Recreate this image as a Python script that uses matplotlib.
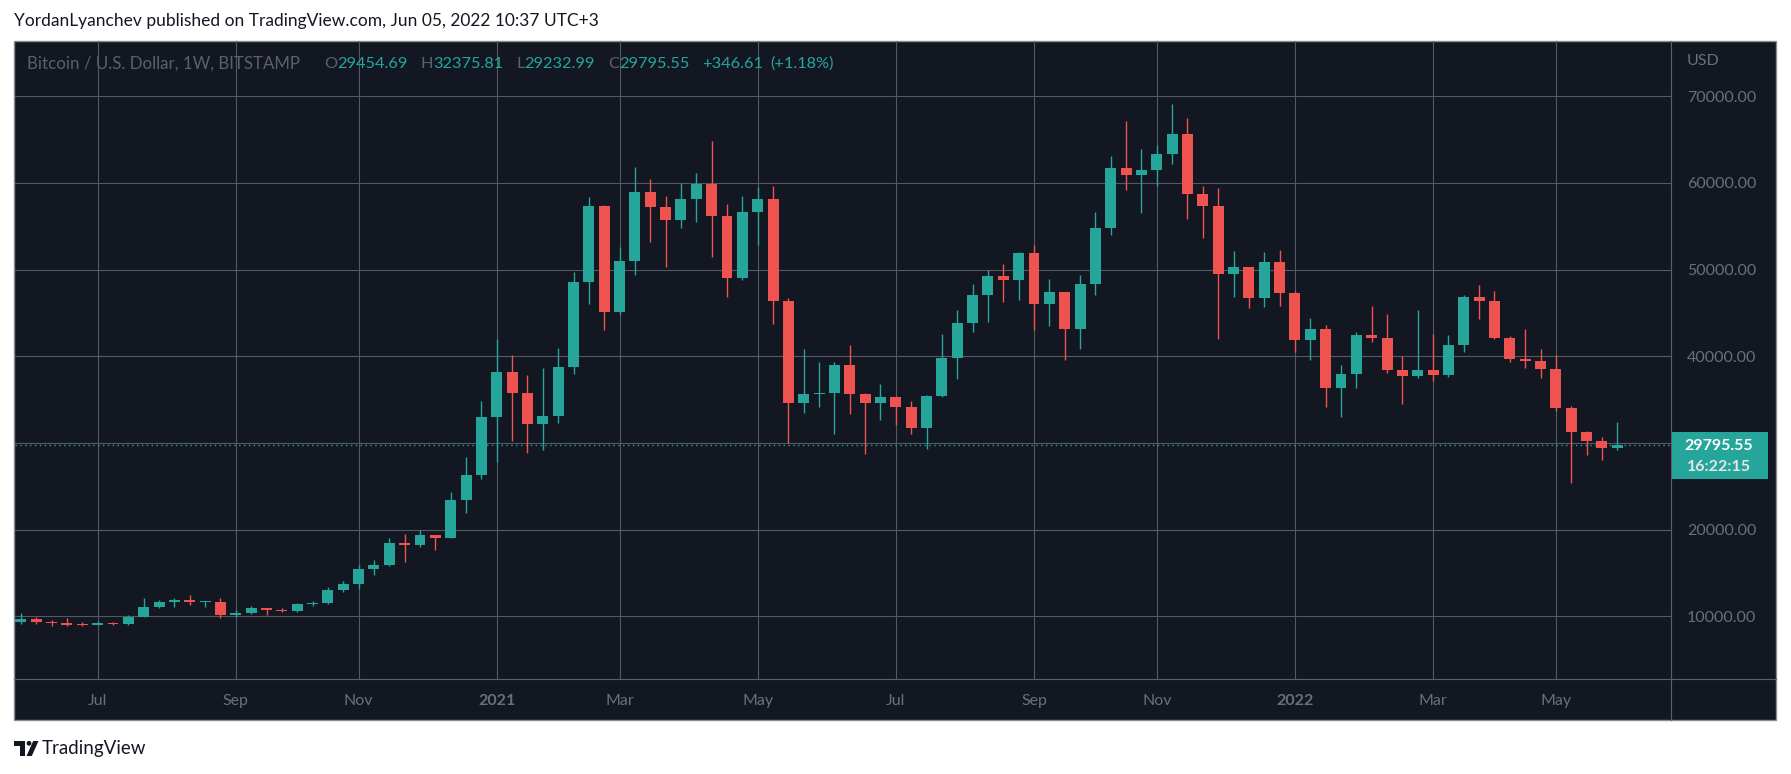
import numpy as np
import pandas as pd
import matplotlib
matplotlib.use("Agg")
import matplotlib.pyplot as plt
import matplotlib.dates as mdates
from matplotlib.patches import Rectangle, Polygon, Circle

plt.rcParams['font.family'] = ['Lato', 'DejaVu Sans']

# weekly BTC/USD candles, Bitstamp, Jun 2020 - Jun 2022
weeks = pd.date_range('2020-06-01', periods=105, freq='W-MON')

opens = [9400, 9700, 9330, 9180, 9050, 8980, 9250, 9130, 9930, 11050,
         11600, 11850, 11650, 11700, 10200, 10400, 10930, 10700, 10580, 11380,
         11500, 13030, 13780, 15480, 15970, 18420, 18180, 19340, 19050, 23380,
         26250, 33000, 38150, 35800, 32200, 33100, 38800, 48600, 57400, 45150,
         50950, 59000, 57200, 55700, 58200, 59900, 56150, 49000, 56600, 58200,
         46400, 34600, 35600, 35800, 39050, 35600, 34650, 35300, 34200, 31700,
         35450, 39850, 43850, 47100, 49300, 48850, 51900, 46000, 47400, 43200,
         48300, 54750, 61700, 60950, 61450, 63400, 65600, 58750, 57350, 49450,
         50250, 46700, 50850, 47300, 41850, 43200, 36300, 37950, 42500, 42100,
         38400, 37700, 38450, 37800, 41300, 46900, 46400, 42150, 39650, 39450,
         38550, 34000, 31250, 30200, 29454.69]
highs = [10350, 9950, 9550, 9770, 9300, 9450, 9350, 10120, 12080, 11850,
         12080, 12420, 11800, 12080, 10750, 11150, 10990, 10950, 11500, 11730,
         13350, 14100, 15950, 16480, 18990, 19460, 19920, 19420, 24300, 28340,
         34800, 41950, 40100, 37800, 38600, 41000, 49700, 58350, 57500, 52600,
         61800, 60500, 58450, 60050, 61200, 64900, 57600, 58550, 59500, 59600,
         46700, 40900, 39400, 39300, 41350, 35800, 36750, 35400, 34800, 35500,
         42600, 45400, 48300, 49950, 50600, 52050, 52800, 48900, 47400, 49350,
         56650, 63100, 67100, 63900, 64350, 69100, 67500, 59600, 59400, 52100,
         50350, 52000, 52250, 47550, 44450, 43600, 39050, 42750, 45850, 44850,
         40050, 45400, 42600, 42500, 47050, 48250, 47500, 42400, 43100, 40900,
         40100, 34300, 31350, 30700, 32375.81]
lows = [9110, 9100, 8900, 8850, 8900, 8950, 9000, 9050, 9900, 10950,
        11040, 11300, 11100, 9850, 9880, 10250, 10150, 10450, 10500, 11200,
        11400, 12800, 13200, 14800, 15800, 16230, 18000, 17600, 19000, 21880,
        25800, 27800, 30200, 28800, 29150, 32300, 38000, 46000, 43000, 44900,
        49350, 53150, 50350, 54850, 55450, 51500, 46900, 48750, 52900, 43700,
        30050, 33450, 34150, 31000, 33400, 28700, 32700, 32100, 31050, 29350,
        35300, 37350, 42850, 44000, 46300, 46500, 43000, 43450, 39600, 40800,
        47050, 54000, 59200, 56500, 59650, 62200, 55900, 53700, 42050, 46900,
        45550, 45650, 45750, 40500, 39600, 34100, 33050, 36300, 41700, 38050,
        34450, 37550, 37200, 37650, 40500, 44350, 41950, 39300, 38600, 37450,
        33700, 25400, 28650, 28050, 29232.99]
closes = [9700, 9330, 9180, 9050, 8980, 9250, 9130, 9930, 11050, 11600,
          11850, 11650, 11700, 10200, 10400, 10930, 10700, 10580, 11380, 11500,
          13030, 13780, 15480, 15970, 18420, 18180, 19340, 19050, 23380, 26250,
          33000, 38150, 35800, 32200, 33100, 38800, 48600, 57400, 45150, 50950,
          59000, 57200, 55700, 58200, 59900, 56150, 49000, 56600, 58200, 46400,
          34600, 35600, 35800, 39050, 35600, 34650, 35300, 34200, 31700, 35450,
          39850, 43850, 47100, 49300, 48850, 51900, 46000, 47400, 43200, 48300,
          54750, 61700, 60950, 61450, 63400, 65600, 58750, 57350, 49450, 50250,
          46700, 50850, 47300, 41850, 43200, 36300, 37950, 42500, 42100, 38400,
          37700, 38450, 37800, 41300, 46900, 46400, 42150, 39650, 39450, 38550,
          34000, 31250, 30200, 29450, 29795.55]

y_ticks = [10000, 20000, 30000, 40000, 50000, 60000, 70000]
last_price = 29795.55
countdown = "16:22:15"

UP = '#26a69a'
DOWN = '#ef5350'
BG = '#131722'
GRID = '#555964'
TXT = '#6b6f7a'

W, H = 1791, 774
fig = plt.figure(figsize=(W / 100, H / 100), dpi=100)
fig.patch.set_facecolor('white')


def frac(x0, y0, x1, y1):
    # pixel box (top-left origin) -> figure fraction [l, b, w, h]
    return [x0 / W, 1 - y1 / H, (x1 - x0) / W, (y1 - y0) / H]


# background frame
bg = fig.add_axes([0, 0, 1, 1], zorder=0)
bg.set_xlim(0, W)
bg.set_ylim(H, 0)
bg.axis('off')
bg.add_patch(Rectangle((14, 41), 1762, 679, facecolor=BG, edgecolor='#8a8d97', lw=1))

# main chart
ax = fig.add_axes(frac(15, 41, 1671, 679), zorder=1)
ax.set_facecolor('none')
x = mdates.date2num(weeks)
o = np.array(opens)
c = np.array(closes)
up = c >= o
colors = np.where(up, UP, DOWN)
bottoms = np.minimum(o, c)
heights = np.maximum(np.abs(c - o), 130)

ax.vlines(x, lows, highs, colors=colors, lw=1.0, zorder=3)
ax.bar(x, heights, bottom=bottoms, width=5.0, color=colors, zorder=4, linewidth=0)

ax.set_xlim(x[0] - 2.7, x[-1] + 24.5)
ax.set_ylim(2766, 76381)

# month ticks at first weekly bar of odd months
tick_pos, tick_lab = [], []
for i in range(1, len(weeks)):
    if weeks[i].month != weeks[i - 1].month and weeks[i].month % 2 == 1:
        tick_pos.append(x[i])
        tick_lab.append(str(weeks[i].year) if weeks[i].month == 1 else weeks[i].strftime('%b'))
ax.set_xticks(tick_pos)
ax.set_xticklabels(tick_lab)
for t in ax.get_xticklabels():
    if t.get_text().isdigit():
        t.set_fontweight('bold')
        t.set_color('#7b7f8a')

ax.set_yticks(y_ticks)
ax.set_yticklabels(['' if v == 30000 else f'{v:.2f}' for v in y_ticks])
ax.yaxis.tick_right()
ax.tick_params(axis='y', length=0, pad=11.5, labelsize=11.5, labelcolor=TXT)
ax.tick_params(axis='x', length=0, pad=11, labelsize=11.5, labelcolor=TXT)
ax.grid(True, color=GRID, lw=0.8, zorder=0)
for s in ax.spines.values():
    s.set_visible(False)

ax.axhline(last_price, color=UP, lw=1.0, ls=(0, (1, 2.5)), zorder=2)

# overlay: separators, header, price label, footer
ov = fig.add_axes([0, 0, 1, 1], zorder=2)
ov.set_xlim(0, W)
ov.set_ylim(H, 0)
ov.axis('off')
ov.patch.set_alpha(0)
ov.plot([1671, 1671], [41, 720], color='#5d606b', lw=0.8)
ov.plot([14, 1776], [679, 679], color='#5d606b', lw=0.8)

ov.text(14, 21, "YordanLyanchev published on TradingView.com, Jun 05, 2022 10:37 UTC+3",
        fontsize=12.5, color='#131722', va='center', ha='left')
ov.text(1687, 61, "USD", fontsize=11.5, color=TXT, va='center', ha='left')

# OHLC legend line
ov.text(27, 64, "Bitcoin / U.S. Dollar, 1W, BITSTAMP", fontsize=12.2,
        color='#5d606b', va='center', ha='left')
pieces = [("O", '#5d606b', 0), ("29454.69", UP, 13),
          ("H", '#5d606b', 0), ("32375.81", UP, 13),
          ("L", '#5d606b', 0), ("29232.99", UP, 13),
          ("C", '#5d606b', 0), ("29795.55", UP, 13),
          ("+346.61", UP, 7), ("(+1.18%)", UP, 0)]
renderer = fig.canvas.get_renderer()
xpos = 324
for txt, col, gap in pieces:
    t = ov.text(xpos, 64, txt, fontsize=11.8, color=col, va='center', ha='left')
    bb = t.get_window_extent(renderer)
    xpos += bb.width + gap

# last price tag
ov.add_patch(Rectangle((1671, 432), 97, 47, facecolor=UP, edgecolor='none'))
ov.text(1719, 446, f'{last_price:.2f}', fontsize=11.5, color='white',
        fontweight='bold', va='center', ha='center')
ov.text(1719, 467, countdown, fontsize=11.5, color='#e3e6ea',
        fontweight='bold', va='center', ha='center')

# footer logo
ov.add_patch(Rectangle((14, 741), 11, 4.5, facecolor='#131722', edgecolor='none'))
ov.add_patch(Rectangle((19.5, 741), 5.5, 15, facecolor='#131722', edgecolor='none'))
ov.add_patch(Circle((29, 743.3), 2.4, facecolor='#131722', edgecolor='none'))
ov.add_patch(Polygon([(26.5, 756), (31.8, 756), (38.5, 741), (33.2, 741)],
                     closed=True, facecolor='#131722', edgecolor='none'))
ov.text(42, 748.5, "TradingView", fontsize=13.5, color='#131722', va='center', ha='left')

fig.savefig('out.png', dpi=100, facecolor='white')
